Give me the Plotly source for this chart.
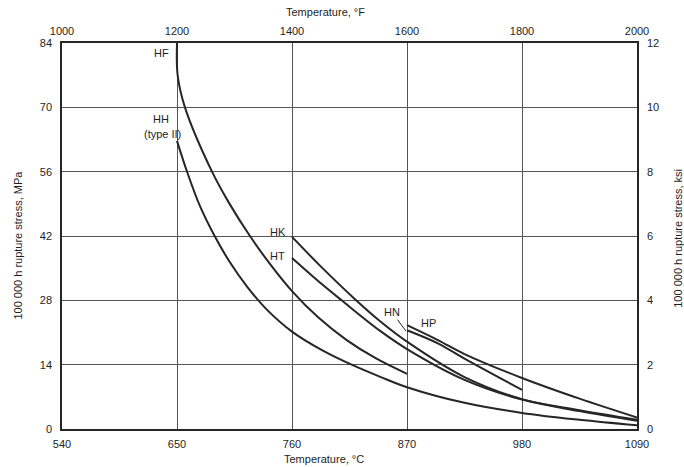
import plotly.graph_objects as go

# 100 000 h rupture stress of cast heat-resistant alloys vs temperature
C_TICKS = [540, 650, 760, 870, 980, 1090]
F_TICK_LABELS = ["1000", "1200", "1400", "1600", "1800", "2000"]
MPA_TICKS = [0, 14, 28, 42, 56, 70, 84]
KSI_TICKS = [0, 2, 4, 6, 8, 10, 12]

hf_temp = [650, 650.6, 657.6, 683.5, 700, 719.8, 740, 760, 785, 812, 840, 870]
hf_mpa = [84, 77, 70, 56, 49.1, 42, 35.6, 30.0, 24.3, 19.4, 15.4, 12.0]

hh_temp = [650, 659.6, 672, 686, 700, 717, 735, 760, 790, 817, 845, 870, 925, 980, 1035, 1090]
hh_mpa = [62.7, 56, 48.5, 42, 36.5, 31.0, 26.2, 21.2, 17.0, 14.0, 11.3, 9.1, 5.7, 3.5, 2.0, 0.8]

hk_temp = [760, 787, 820, 844, 870, 925, 980, 1035, 1090]
hk_mpa = [41.8, 35.5, 28.3, 23.5, 19.0, 11.3, 6.5, 4.1, 2.0]

ht_temp = [760, 785, 807.5, 844, 870, 925, 980, 1035, 1090]
ht_mpa = [37.2, 32.2, 28, 21.4, 17.4, 10.7, 6.4, 3.9, 1.8]

hn_temp = [870, 900, 925, 980]
hn_mpa = [21.5, 18.6, 15.3, 8.5]

hp_temp = [870, 900, 925, 980, 1035, 1090]
hp_mpa = [22.6, 19.3, 16.3, 11.1, 6.6, 2.5]

INK = "#262626"
GRID = "#555555"
TEXT = "#1e1e1e"
FONT = "Liberation Sans, Arial, sans-serif"

fig = go.Figure()
for tx, sy in [(hf_temp, hf_mpa), (hh_temp, hh_mpa), (hk_temp, hk_mpa),
               (ht_temp, ht_mpa), (hn_temp, hn_mpa), (hp_temp, hp_mpa)]:
    fig.add_trace(go.Scatter(x=tx, y=sy, mode="lines",
                             line=dict(color=INK, width=2, shape="spline", smoothing=1.0),
                             hoverinfo="skip", showlegend=False))

# carrier trace so the secondary (°F / ksi) axes are drawn
fig.add_trace(go.Scatter(x=[C_TICKS[0], C_TICKS[-1]], y=[0, 0], xaxis="x2", yaxis="y2",
                         mode="markers", marker=dict(opacity=0), hoverinfo="skip",
                         showlegend=False))

tick_font = dict(family=FONT, size=11, color=TEXT)

fig.update_layout(
    width=684, height=467,
    margin=dict(l=62, r=47, t=43, b=38),
    paper_bgcolor="white", plot_bgcolor="white",
    font=dict(family=FONT, size=11, color=TEXT),
    xaxis=dict(range=[540, 1090], tickvals=C_TICKS, ticks="", showgrid=True,
               gridcolor=GRID, gridwidth=1, zeroline=False, showline=True,
               linecolor=INK, linewidth=1.5, mirror=False, tickfont=tick_font,
               ticklabelstandoff=4),
    xaxis2=dict(range=[540, 1090], tickvals=C_TICKS, ticktext=F_TICK_LABELS,
                overlaying="x", side="top", ticks="", showgrid=False, zeroline=False,
                showline=True, linecolor=INK, linewidth=1.5, tickfont=tick_font,
                ticklabelstandoff=2),
    yaxis=dict(range=[0, 84], tickvals=MPA_TICKS, ticks="", showgrid=True,
               gridcolor=GRID, gridwidth=1, zeroline=False, showline=True,
               linecolor=INK, linewidth=1.5, tickfont=tick_font, ticklabelstandoff=6),
    yaxis2=dict(range=[0, 12], tickvals=KSI_TICKS, overlaying="y", side="right",
                ticks="", showgrid=False, zeroline=False, showline=True,
                linecolor=INK, linewidth=1.5, tickfont=tick_font, ticklabelstandoff=6),
)

# axis titles
titles = [
    ("Temperature, °F", 0.459, 1.080, 0),
    ("Temperature, °C", 0.456, -0.078, 0),
    ("100 000 h rupture stress, MPa", -0.077, 0.477, -90),
    ("100 000 h rupture stress, ksi", 1.071, 0.495, -90),
]
for text, px, py, ang in titles:
    fig.add_annotation(text=text, x=px, y=py, xref="paper", yref="paper",
                       showarrow=False, textangle=ang, xanchor="center", yanchor="middle",
                       font=dict(family=FONT, size=11, color=TEXT))

# alloy labels
labels = [
    ("HF", 644.5, 81.8, "right"),
    ("HH", 644.5, 67.5, "right"),
    ("(type II)", 636.6, 64.3, "center"),
    ("HK", 756, 42.9, "right"),
    ("HT", 755, 37.6, "right"),
    ("HP", 891, 23.1, "center"),
]
for text, lx, ly, anchor in labels:
    fig.add_annotation(text=text, x=lx, y=ly, showarrow=False, xanchor=anchor,
                       yanchor="middle", font=dict(family=FONT, size=11, color=TEXT))

fig.add_annotation(text="HN", x=869, y=21.3, ax=-14, ay=-19, showarrow=True,
                   arrowhead=0, arrowwidth=1, arrowcolor=INK, standoff=0,
                   font=dict(family=FONT, size=11, color=TEXT))

fig.write_html("out.html")
